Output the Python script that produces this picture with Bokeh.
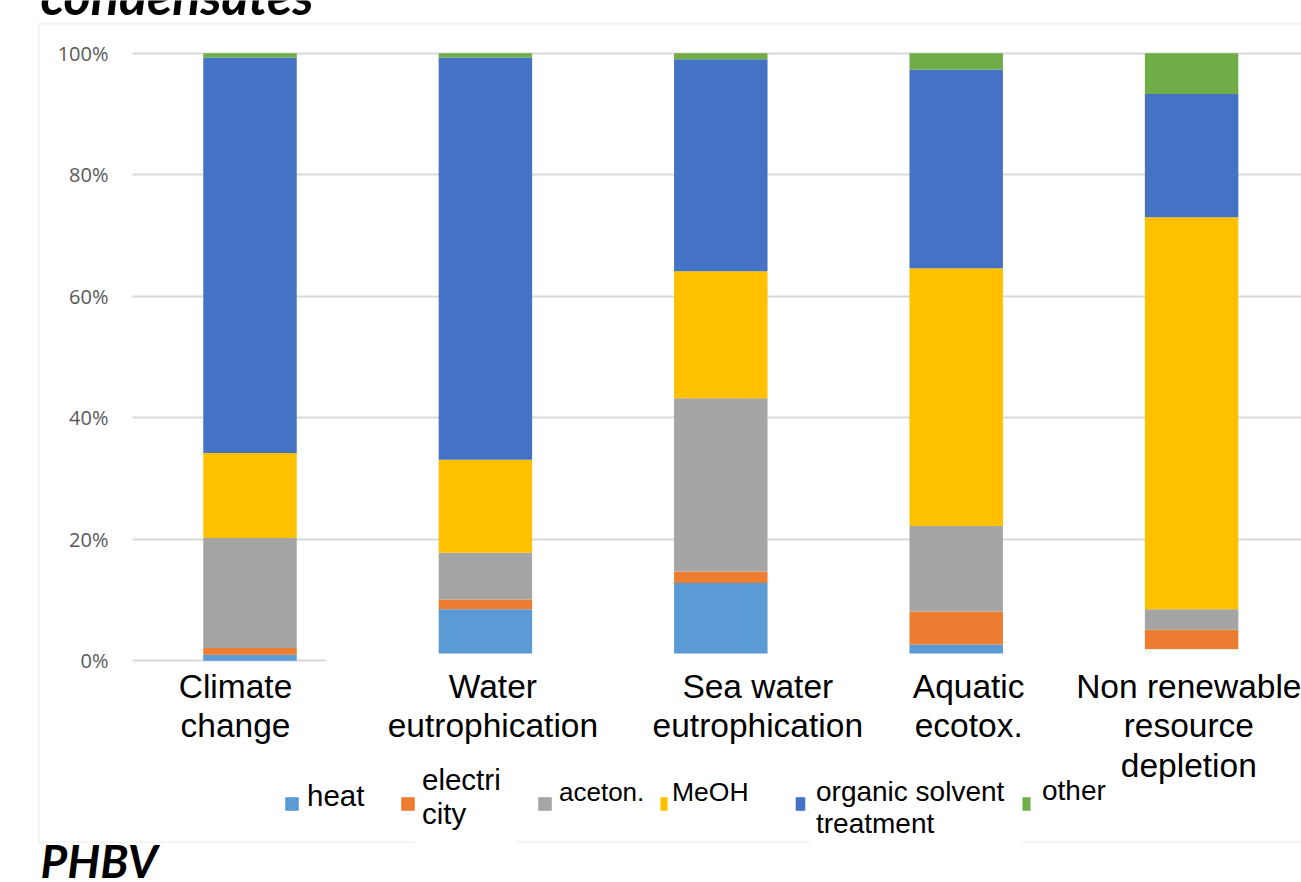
from bokeh.plotting import figure
from bokeh.models import (ColumnDataSource, Range1d, FixedTicker, NumeralTickFormatter,
                          BoxAnnotation, Label, Legend, LegendItem, Grid)
from bokeh.embed import file_html
from bokeh.resources import INLINE

# ---------------- data ----------------
categories = ["Climate\nchange", "Water\neutrophication", "Sea water\neutrophication",
              "Aquatic\necotox.", "Non renewable\nresource\ndepletion"]
heat = [0.010, 0.085, 0.128, 0.027, 0.019]
electricity = [0.011, 0.016, 0.019, 0.054, 0.032]
aceton = [0.181, 0.077, 0.285, 0.141, 0.034]
meoh = [0.140, 0.153, 0.209, 0.424, 0.645]
organic_solvent = [0.651, 0.662, 0.349, 0.327, 0.203]
other = [0.007, 0.007, 0.010, 0.027, 0.067]
series_keys = ["heat", "electricity", "aceton", "meoh", "organic_solvent", "other"]
legend_labels = ["heat", "electri\ncity", "aceton.", "MeOH", "organic solvent\ntreatment", "other"]
colors = ["#5B9BD5", "#ED7D31", "#A5A5A5", "#FFC000", "#4472C4", "#70AD47"]
y_ticks = [0, 0.2, 0.4, 0.6, 0.8, 1.0]

# ---------------- layout (pixel geometry of the reference) ----------------
W, H = 1301, 882
PX0, PXS = 249.5, 235.4      # x of first bar centre, spacing between bars
PY0, PYS = 660.3, 607.6      # y of 0 %, pixels per 100 %


def dx(px):
    return (px - PX0) / PXS


def dy(py):
    return (PY0 - py) / PYS


LABEL_SHIFT_PX = [-14.5, 7.5, 37, 12.5, 11]

p = figure(width=W, height=H,
           x_range=Range1d(dx(0), dx(W)),
           y_range=Range1d(dy(H), dy(0)),
           output_backend="svg", toolbar_location=None,
           min_border_left=0, min_border_right=0, min_border_top=0, min_border_bottom=0)
p.title.visible = False
p.outline_line_color = None
p.background_fill_color = "white"
p.border_fill_color = "white"

src = ColumnDataSource(dict(x=list(range(len(categories))), heat=heat, electricity=electricity,
                            aceton=aceton, meoh=meoh, organic_solvent=organic_solvent, other=other))
rs = p.vbar_stack(series_keys, x="x", width=0.397, source=src,
                  fill_color=colors, line_color=None)

# y axis (placed inside the canvas)
p.yaxis.fixed_location = dx(132)
p.yaxis.ticker = FixedTicker(ticks=y_ticks)
p.yaxis.formatter = NumeralTickFormatter(format="0%")
p.yaxis.axis_line_color = None
p.yaxis.major_tick_line_color = None
p.yaxis.minor_tick_line_color = None
p.yaxis.major_tick_out = 0
p.yaxis.major_tick_in = 0
p.yaxis.major_label_standoff = 24
p.yaxis.major_label_text_font = "Open Sans"
p.yaxis.major_label_text_font_size = "20px"
p.yaxis.major_label_text_color = "#595959"

p.ygrid.ticker = FixedTicker(ticks=y_ticks)
p.ygrid.grid_line_color = "#d9d9d9"
p.ygrid.grid_line_width = 2
p.xgrid.grid_line_color = None
if "cross_bounds" in Grid.properties():
    p.ygrid.cross_bounds = (dx(132), dx(W + 20))
else:
    p.add_layout(BoxAnnotation(right=dx(132), fill_color="white", fill_alpha=1,
                               line_color=None, level="underlay"))

# x axis with category labels
ticks = [round(i + s / PXS, 4) for i, s in enumerate(LABEL_SHIFT_PX)]
p.xaxis.fixed_location = dy(661)
p.xaxis.ticker = FixedTicker(ticks=ticks)
p.xaxis.major_label_overrides = {t: c for t, c in zip(ticks, categories)}
p.xaxis.axis_line_color = None
p.xaxis.major_tick_line_color = None
p.xaxis.minor_tick_line_color = None
p.xaxis.major_tick_out = 0
p.xaxis.major_tick_in = 0
p.xaxis.major_label_standoff = 6
p.xaxis.major_label_text_font = "Liberation Sans"
p.xaxis.major_label_text_font_size = "33.5px"
p.xaxis.major_label_text_color = "black"
p.xaxis.major_label_text_line_height = 1.08

# white masks hiding the bar bottoms (as in the reference screenshot)
p.add_layout(BoxAnnotation(left=dx(326), right=dx(1070), top=dy(653), bottom=dy(666),
                           fill_color="white", fill_alpha=1, line_color=None))
p.add_layout(BoxAnnotation(left=dx(1070), right=dx(W + 20), top=dy(648.7), bottom=dy(666),
                           fill_color="white", fill_alpha=1, line_color=None))

# chart-area border
p.add_layout(BoxAnnotation(left=dx(38.5), right=dx(W + 40), top=dy(23.3), bottom=dy(841.7),
                           fill_alpha=0, line_color="#d9d9d9", line_width=2))
# white text boxes of the legend, covering the border
p.add_layout(BoxAnnotation(left=dx(415), right=dx(516), top=dy(775), bottom=dy(852),
                           fill_color="white", fill_alpha=1, line_color=None))
p.add_layout(BoxAnnotation(left=dx(810), right=dx(1022), top=dy(775), bottom=dy(852),
                           fill_color="white", fill_alpha=1, line_color=None))

# legend: per entry one swatch legend and one label legend, placed like the reference
leg_specs = [
    # swatch left, swatch drawn width, label standoff, font size, label centre y
    (285.0, 13.3, 7, 29.5, 795.8),
    (401.0, 13.3, 6, 29.5, 797.3),
    (538.0, 13.3, 6, 26.0, 792.7),
    (659.7, 7.6, 4, 26.5, 792.5),
    (795.0, 10.0, 10, 28.0, 807.6),
    (1022.3, 7.7, 11, 28.0, 791.0),
]
SWATCH_CENTRE = 804
for i, (gx, gw, stand, fs, ly) in enumerate(leg_specs):
    gw_area = int(round(gw / 0.8))
    gh_area = int(round(13.4 / 0.8))
    area_left = gx - 0.1 * gw_area
    # swatch
    p.add_layout(Legend(items=[LegendItem(label=" ", renderers=[rs[i]])],
                        location=(int(round(area_left)), int(round(H - (SWATCH_CENTRE + gh_area / 2)))),
                        padding=0, margin=0, spacing=0, border_line_color=None,
                        background_fill_alpha=0, glyph_width=gw_area, glyph_height=gh_area,
                        label_height=gh_area, label_standoff=0, label_text_font_size="8px"))
    # label (tiny 1px swatch hidden under the text start)
    nlines = legend_labels[i].count("\n") + 1
    text_h = fs * 1.15 * nlines
    p.add_layout(Legend(items=[LegendItem(label=legend_labels[i], renderers=[rs[i]])],
                        location=(int(round(area_left + gw_area + stand - 1)), int(round(H - (ly + text_h / 2)))),
                        padding=0, margin=0, spacing=0, border_line_color=None,
                        background_fill_alpha=0, glyph_width=1, glyph_height=1,
                        label_standoff=0,
                        label_text_font="Liberation Sans", label_text_font_size=f"{fs}px",
                        label_text_color="black", label_text_line_height=1.08))

# slide texts around the chart
p.add_layout(Label(x=dx(40), y=dy(-5.7), text="condensates", text_font="Lato",
                   text_font_style="bold italic", text_font_size="52px",
                   text_color="black", text_baseline="alphabetic"))
p.add_layout(Label(x=dx(40), y=dy(859.5), text="PHBV", text_font="Lato",
                   text_font_style="bold italic", text_font_size="46px",
                   text_color="black", text_baseline="alphabetic"))

open("out.html", "w").write(file_html(p, INLINE))
